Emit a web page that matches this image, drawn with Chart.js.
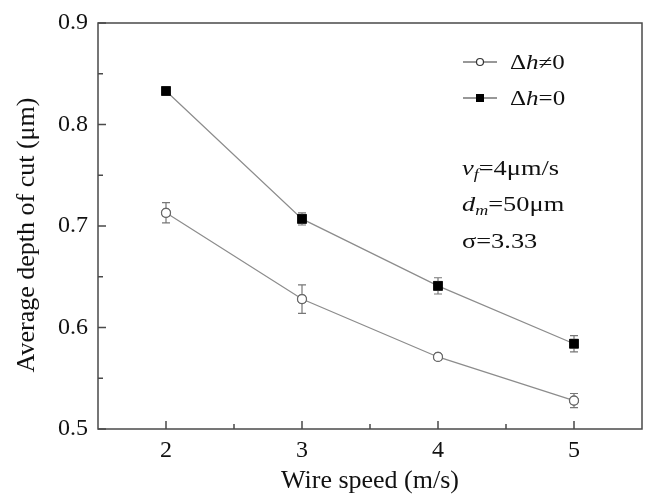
<!DOCTYPE html>
<html>
<head>
<meta charset="utf-8">
<script src="https://cdn.jsdelivr.net/npm/chart.js@4.4.1/dist/chart.umd.min.js"></script>
<style>
  html, body { margin: 0; padding: 0; background: #fff; overflow: hidden; }
</style>
</head>
<body>
<canvas id="grafico" width="645" height="501"></canvas>
<script>
// datos
const velocidades = [2, 3, 4, 5];
const profConDh = [0.713, 0.628, 0.571, 0.528];    // Δh≠0
const errConDh = [0.010, 0.014, 0.002, 0.007];
const profSinDh = [0.833, 0.707, 0.641, 0.584];    // Δh=0
const errSinDh = [0.003, 0.006, 0.008, 0.008];
const ticksX = [2, 3, 4, 5];
const ticksY = [0.5, 0.6, 0.7, 0.8, 0.9];
const menoresX = [2.5, 3.5, 4.5];
const menoresY = [0.55, 0.65, 0.75, 0.85];
const tituloY = 'Average depth of cut (μm)';

const serif = "'Liberation Serif', 'Times New Roman', serif";
const gris = '#8c8c8c';
const marco = '#4a4a4a';

const puntos = (ys) => velocidades.map((x, i) => ({ x: x, y: ys[i] }));

// barras de error, marco, ticks hacia dentro, leyenda y anotaciones
const extras = {
  id: 'extras',
  afterDatasetsDraw(chart) {
    const { ctx, scales: { x, y } } = chart;
    ctx.save();
    ctx.strokeStyle = '#777';
    ctx.lineWidth = 1.2;
    [[profConDh, errConDh], [profSinDh, errSinDh]].forEach(([vals, errs]) => {
      vals.forEach((v, i) => {
        const px = x.getPixelForValue(velocidades[i]);
        const y1 = y.getPixelForValue(v + errs[i]);
        const y2 = y.getPixelForValue(v - errs[i]);
        ctx.beginPath();
        ctx.moveTo(px, y1); ctx.lineTo(px, y2);
        ctx.moveTo(px - 4, y1); ctx.lineTo(px + 4, y1);
        ctx.moveTo(px - 4, y2); ctx.lineTo(px + 4, y2);
        ctx.stroke();
      });
    });
    ctx.restore();
    // redibujar marcadores encima de las barras
    chart.getDatasetMeta(0).data.forEach(p => p.draw(ctx, chart.chartArea));
    chart.getDatasetMeta(1).data.forEach(p => p.draw(ctx, chart.chartArea));
  },
  afterDraw(chart) {
    const { ctx, chartArea: a, scales: { x, y } } = chart;
    ctx.save();
    ctx.strokeStyle = marco;
    ctx.lineWidth = 1.5;
    ctx.strokeRect(a.left, a.top, a.right - a.left, a.bottom - a.top);
    ctx.beginPath();
    ticksX.forEach(v => { const p = x.getPixelForValue(v); ctx.moveTo(p, a.bottom); ctx.lineTo(p, a.bottom - 8); });
    menoresX.forEach(v => { const p = x.getPixelForValue(v); ctx.moveTo(p, a.bottom); ctx.lineTo(p, a.bottom - 5); });
    ticksY.forEach(v => { const p = y.getPixelForValue(v); ctx.moveTo(a.left, p); ctx.lineTo(a.left + 8, p); });
    menoresY.forEach(v => { const p = y.getPixelForValue(v); ctx.moveTo(a.left, p); ctx.lineTo(a.left + 5, p); });
    ctx.stroke();

    // titulo del eje y
    ctx.save();
    ctx.translate(27, 235);
    ctx.rotate(-Math.PI / 2);
    ctx.fillStyle = '#111';
    ctx.font = '26px ' + serif;
    ctx.textAlign = 'center';
    ctx.textBaseline = 'middle';
    ctx.fillText(tituloY, 0, 0);
    ctx.restore();

    // leyenda
    ctx.strokeStyle = '#333';
    ctx.lineWidth = 1.2;
    ctx.beginPath();
    ctx.moveTo(463, 62); ctx.lineTo(497, 62);
    ctx.moveTo(463, 98); ctx.lineTo(497, 98);
    ctx.stroke();
    ctx.fillStyle = '#fff';
    ctx.beginPath(); ctx.arc(480, 62, 3.5, 0, Math.PI * 2); ctx.fill(); ctx.stroke();
    ctx.fillStyle = '#000';
    ctx.fillRect(476, 94, 8, 8);

    ctx.fillStyle = '#111';
    ctx.textBaseline = 'alphabetic';
    const texto = (partes, x0, y0, sx) => {
      ctx.save();
      ctx.translate(x0, y0);
      ctx.scale(sx, 1);
      let cx = 0;
      partes.forEach(([t, estilo, size, dy]) => {
        ctx.font = estilo + ' ' + size + 'px ' + serif;
        ctx.fillText(t, cx, dy || 0);
        cx += ctx.measureText(t).width;
      });
      ctx.restore();
    };
    texto([['Δ', '', 20], ['h', 'italic', 20], ['≠0', '', 20]], 510, 69, 1.25);
    texto([['Δ', '', 20], ['h', 'italic', 20], ['=0', '', 20]], 510, 105, 1.25);
    texto([['v', 'italic', 22], ['f', 'italic', 15, 4], ['=4μm/s', '', 22]], 462, 175, 1.2);
    texto([['d', 'italic', 22], ['m', 'italic', 15, 4], ['=50μm', '', 22]], 462, 211, 1.2);
    texto([['σ=3.33', '', 22]], 462, 248, 1.2);
    ctx.restore();
  }
};

const ctx = document.getElementById('grafico').getContext('2d');
const grafico = new Chart(ctx, {
  type: 'line',
  data: {
    datasets: [
      {
        label: 'Δh≠0',
        data: puntos(profConDh),
        borderColor: gris,
        borderWidth: 1.2,
        pointStyle: 'circle',
        pointRadius: 4.5,
        pointBackgroundColor: '#fff',
        pointBorderColor: '#666',
        pointBorderWidth: 1.2,
        tension: 0
      },
      {
        label: 'Δh=0',
        data: puntos(profSinDh),
        borderColor: gris,
        borderWidth: 1.2,
        pointStyle: 'rect',
        pointRadius: 6.3,
        pointBackgroundColor: '#000',
        pointBorderColor: '#000',
        pointBorderWidth: 0.5,
        tension: 0
      }
    ]
  },
  options: {
    responsive: false,
    animation: false,
    events: [],
    layout: { autoPadding: false, padding: { top: 23, right: 3, left: 0, bottom: 0 } },
    plugins: { legend: { display: false }, tooltip: { enabled: false } },
    scales: {
      x: {
        type: 'linear',
        min: 1.5, max: 5.5,
        afterBuildTicks: s => { s.ticks = ticksX.map(v => ({ value: v })); },
        afterFit: s => { s.height = 72; s.paddingLeft = 0; s.paddingRight = 0; },
        grid: { display: false, drawTicks: false },
        border: { display: false },
        ticks: { color: '#111', padding: 7, font: { family: serif, size: 24 } },
        title: { display: true, text: 'Wire speed (m/s)', color: '#111', padding: { top: 2 }, font: { family: serif, size: 26 } }
      },
      y: {
        type: 'linear',
        min: 0.5, max: 0.9,
        afterBuildTicks: s => { s.ticks = ticksY.map(v => ({ value: v })); },
        afterFit: s => { s.width = 98; s.paddingTop = 0; s.paddingBottom = 0; },
        grid: { display: false, drawTicks: false },
        border: { display: false },
        ticks: { color: '#111', padding: 10, font: { family: serif, size: 24 }, callback: v => v.toFixed(1) },
        title: { display: false }
      }
    }
  },
  plugins: [extras]
});
</script>
</body>
</html>
